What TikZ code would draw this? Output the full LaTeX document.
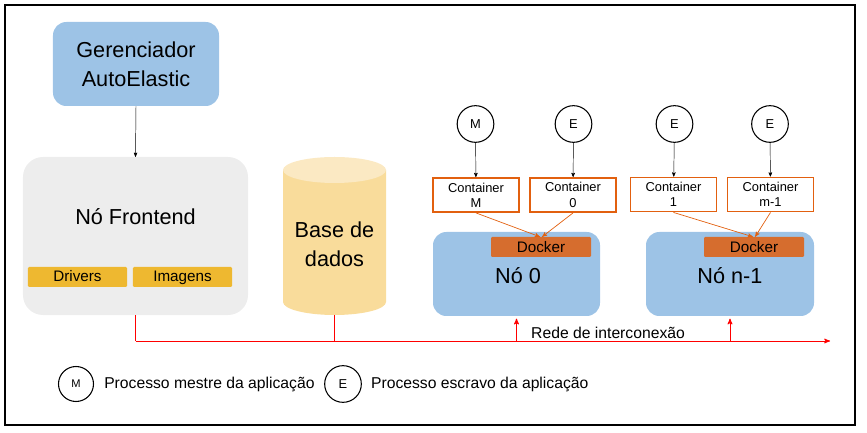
\documentclass[tikz,border=0pt]{standalone}
\usepackage{fontspec}
\setmainfont{Liberation Sans}
\usepackage{tikz}
\usetikzlibrary{shapes.geometric,arrows,positioning,calc}
\definecolor{nodeblue}{HTML}{9DC3E6}
\definecolor{frontgray}{HTML}{EDEDED}
\definecolor{libgold}{HTML}{EEB830}
\definecolor{dockorange}{HTML}{D66D2E}
\definecolor{contorange}{HTML}{E2600F}
\definecolor{dbbody}{HTML}{F9DC9B}
\definecolor{dbtop}{HTML}{FBE9C3}
\tikzstyle{bignode} = [rectangle, rounded corners=0.4cm, fill=nodeblue, align=center, font=\fontsize{18.5}{25}\selectfont]
\tikzstyle{libbox} = [rectangle, rounded corners=1pt, fill=libgold, minimum width=2.97cm, minimum height=0.6cm, inner sep=0pt, text height=1.5ex, text depth=0.1ex, font=\fontsize{13}{15}\selectfont]
\tikzstyle{dockbox} = [rectangle, rounded corners=1pt, fill=dockorange, minimum width=3cm, minimum height=0.6cm, inner sep=0pt, font=\fontsize{13}{15}\selectfont]
\tikzstyle{contbox} = [rectangle, draw=contorange, line width=1.6pt, fill=white, minimum width=2.58cm, minimum height=1.02cm, inner sep=0pt, align=center, font=\fontsize{11}{13}\selectfont]
\tikzstyle{proc} = [circle, draw, line width=0.9pt, minimum size=1.1cm, inner sep=0pt, font=\fontsize{11}{13}\selectfont]
\tikzstyle{net} = [red, line width=0.8pt]
\tikzstyle{legtext} = [anchor=west, inner sep=0pt, font=\fontsize{13.4}{15}\selectfont]

\begin{document}
\begin{tikzpicture}[x=0.03cm, y=-0.03cm, >=stealth']
  \useasboundingbox (0,0) rectangle (867,433);
  \draw[line width=1.6pt] (5,5) rectangle (855,425);

  % gerenciador e frontend
  \node[bignode, minimum width=4.98cm, minimum height=2.52cm] (mgr) at (136,64) {Gerenciador\\AutoElastic};
  \node[bignode, fill=frontgray, rounded corners=0.6cm, minimum width=6.75cm, minimum height=4.74cm] (front) at (135.5,236) {};
  \node[font=\fontsize{18.5}{22}\selectfont] (frontlbl) at (135.5,217) {Nó Frontend};
  \node[libbox] (drv) at (77.5,277) {Drivers};
  \node[libbox] (img) at (182.5,277) {Imagens};
  \draw[->] (mgr.south) -- (front.north);

  % base de dados
  \fill[dbbody] (283,170) -- (283,302) arc[start angle=180, end angle=360, x radius=1.545cm, y radius=0.39cm] -- (386,170) -- cycle;
  \fill[dbtop] (334.5,170) ellipse[x radius=1.545cm, y radius=0.39cm];
  \node[align=center, font=\fontsize{18.5}{25}\selectfont] (db) at (334.5,244) {Base de\\dados};
  \coordinate (dbbot) at (334.5,315);

  % no 0
  \node[bignode, minimum width=5.01cm, minimum height=2.52cm] (node0) at (516.5,274) {};
  \node[font=\fontsize{18.5}{22}\selectfont] (node0lbl) at (518,276) {Nó 0};
  \node[dockbox] (dock0) at (541,247) {Docker};
  \node[proc] (pm) at (475.5,124) {M};
  \node[proc] (pe0) at (573.5,124) {E};
  \node[contbox] (cm) at (476,195) {Container\\M};
  \node[contbox] (c0) at (573,195) {Container\\0};
  \draw[->] (pm) -- (cm);
  \draw[->] (pe0) -- (c0);
  \draw[->, contorange, line width=0.6pt] (cm.south) -- ([xshift=-1pt]dock0.north);
  \draw[->, contorange, line width=0.6pt] (c0.south) -- ([xshift=1pt]dock0.north);

  % no n-1
  \node[bignode, minimum width=5.04cm, minimum height=2.52cm] (noden) at (730,274) {};
  \node[font=\fontsize{18.5}{22}\selectfont] (nodenlbl) at (730,276) {Nó n-1};
  \node[dockbox] (dockn) at (754,247) {Docker};
  \node[proc] (pe1) at (674.5,124) {E};
  \node[proc] (pem) at (770,124) {E};
  \node[contbox] (c1) at (673.5,194.5) {Container\\1};
  \node[contbox] (cm1) at (770.5,194.5) {Container\\m-1};
  \draw[->] (pe1) -- (c1);
  \draw[->] (pem) -- (cm1);
  \draw[->, contorange, line width=0.6pt] (c1.south) -- ([xshift=-1pt]dockn.north);
  \draw[->, contorange, line width=0.6pt] (cm1.south) -- ([xshift=1pt]dockn.north);

  % rede de interconexao
  \coordinate (netL) at (135.5,341);
  \coordinate (netR) at (830,341);
  \draw[net, ->] (netL) -- (netR);
  \draw[net] (front.south) -- (netL);
  \draw[net] (dbbot) -- (dbbot |- netL);
  \draw[net, ->] (node0.south |- netL) -- ([yshift=-2pt]node0.south);
  \draw[net, ->] (noden.south |- netL) -- ([yshift=-2pt]noden.south);
  \node[legtext] (netlbl) at (531,333) {Rede de interconexão};

  % legenda
  \node[proc, minimum size=1.05cm, font=\fontsize{9.5}{11}\selectfont] (legm) at (76,384) {M};
  \node[legtext, right=0.3cm of legm] (legmtxt) {Processo mestre da aplicação};
  \node[proc, minimum size=1.1cm] (lege) at (343,384) {E};
  \node[legtext, right=0.27cm of lege] (legetxt) {Processo escravo da aplicação};
\end{tikzpicture}
\end{document}
